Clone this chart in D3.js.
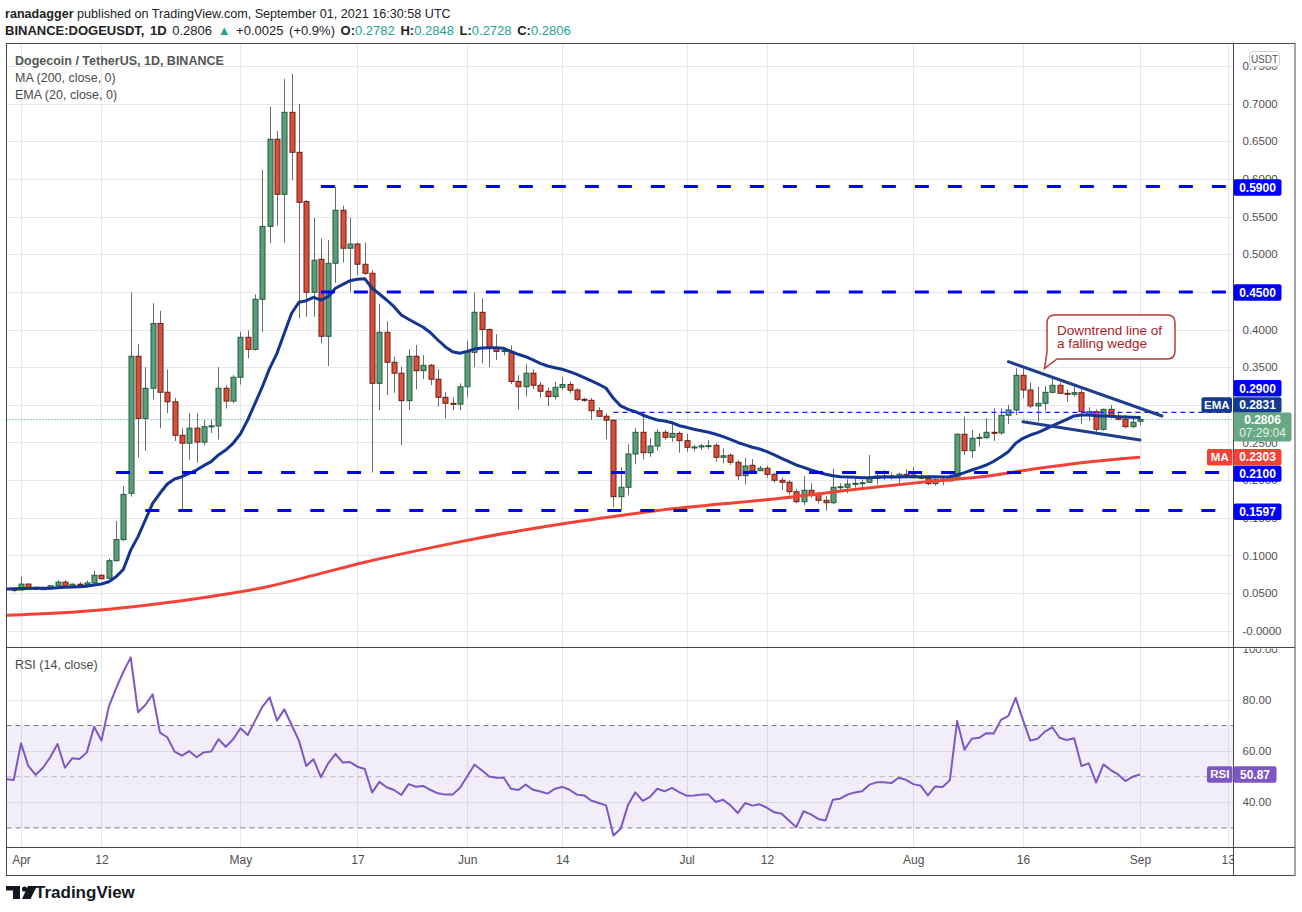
<!DOCTYPE html>
<html>
<head>
<meta charset="utf-8">
<script src="https://cdn.jsdelivr.net/npm/d3@7"></script>
<style>
  body { margin: 0; background: #fff; }
  svg { display: block; }
  text { font-family: "Liberation Sans", Arial, sans-serif; }
</style>
</head>
<body>
<svg id="chart" width="1302" height="912"></svg>
<script>
// daily candles from 30 Mar 2021 to 1 Sep 2021
var startDay = Date.UTC(2021, 2, 30);

var opens = [.0555,.0548,.0540,.0619,.0576,.0553,.0558,.0597,.0645,.0590,.0618,.0612,.0635,.0736,.0696,.0930,.1210,.1825,.3645,.2820,.3220,.4080,.3167,.3040,.2595,.2490,.2690,.2505,.2710,.2720,.3220,.3050,.3366,.3897,.3737,.4402,.5370,.6527,.5796,.6885,.6354,.5700,.4495,.4933,.3910,.4880,.5584,.5080,.5136,.4867,.4747,.3286,.3963,.3565,.3420,.3055,.3645,.3453,.3525,.3340,.3100,.3020,.3010,.3240,.3697,.4229,.4000,.3750,.3710,.3710,.3310,.3240,.3420,.3260,.3180,.3110,.3233,.3270,.3197,.3073,.3060,.2922,.2848,.2795,.1780,.1905,.2347,.2635,.2364,.2453,.2635,.2569,.2621,.2524,.2436,.2440,.2455,.2462,.2303,.2330,.2237,.2059,.2197,.2125,.2157,.2077,.1998,.1971,.1846,.1713,.1865,.1812,.1732,.1700,.1905,.1905,.1948,.1957,.1971,.2024,.2055,.2055,.2041,.2077,.2068,.2038,.2024,.1953,.2011,.1990,.2037,.2609,.2391,.2555,.2564,.2635,.2628,.2861,.2931,.3392,.3197,.2985,.3020,.3166,.3259,.3153,.3140,.3161,.2865,.2909,.2675,.2940,.2842,.2808,.2710,.2782];
var highs = [.0565,.0552,.0717,.0630,.0585,.0562,.0600,.0672,.0672,.0625,.0645,.0668,.0793,.0750,.0961,.1457,.1920,.4490,.3810,.3500,.4350,.4250,.3470,.3090,.2690,.2890,.2890,.2800,.2800,.3500,.3260,.3396,.3970,.3990,.4468,.6120,.6960,.6637,.7328,.7394,.6996,.5720,.5480,.5210,.5190,.5897,.5645,.5486,.5154,.5154,.4790,.4340,.4110,.3640,.3507,.3737,.3795,.3662,.3542,.3472,.3166,.3100,.3286,.3848,.4490,.4415,.4016,.3940,.3750,.3790,.3396,.3540,.3472,.3307,.3228,.3307,.3366,.3307,.3220,.3090,.3090,.2967,.2887,.2810,.2170,.2480,.2690,.2887,.2555,.2679,.2666,.2755,.2644,.2613,.2470,.2480,.2533,.2489,.2422,.2356,.2267,.2298,.2280,.2188,.2192,.2099,.2037,.2002,.1882,.2055,.1958,.1846,.1789,.2148,.1958,.2011,.2045,.2000,.2334,.2099,.2134,.2100,.2099,.2144,.2170,.2100,.2055,.2037,.2060,.2112,.2622,.2843,.2666,.2622,.2820,.2954,.2954,.2998,.3485,.3506,.3294,.3240,.3250,.3352,.3294,.3206,.3263,.3206,.2967,.2940,.2950,.2998,.2909,.2865,.2821,.2848];
var lows = [.0548,.0510,.0538,.0570,.0540,.0548,.0552,.0590,.0580,.0582,.0600,.0602,.0620,.0680,.0690,.0920,.1190,.1780,.2300,.2390,.3070,.2690,.2890,.2520,.1586,.2270,.2230,.2460,.2626,.2540,.2950,.3020,.3270,.3617,.3720,.3970,.5150,.5380,.5150,.5986,.4150,.4170,.4170,.3817,.3516,.4620,.4890,.4495,.4725,.4725,.2100,.2930,.3130,.3160,.2460,.2930,.3206,.3343,.3260,.2975,.2820,.2930,.2930,.3100,.3500,.3550,.3500,.3596,.3660,.3277,.2940,.3110,.3210,.3095,.2985,.3073,.3197,.3153,.3047,.3040,.2800,.2840,.2542,.1639,.1612,.1800,.2210,.2276,.2311,.2391,.2533,.2510,.2364,.2378,.2380,.2400,.2410,.2245,.2223,.2201,.2000,.1944,.2090,.2121,.2033,.1966,.1869,.1802,.1692,.1670,.1767,.1692,.1594,.1679,.1846,.1825,.1900,.1900,.1958,.1944,.2002,.2010,.1958,.2024,.2030,.2010,.1935,.1926,.1930,.2002,.2030,.2334,.2298,.2444,.2546,.2520,.2600,.2745,.2865,.3087,.2954,.2776,.2922,.3153,.3144,.3042,.3108,.2745,.2789,.2644,.2656,.2821,.2789,.2688,.2690,.2728];
var closes = [.0556,.0540,.0619,.0576,.0553,.0558,.0597,.0645,.0590,.0618,.0612,.0635,.0736,.0690,.0930,.1210,.1810,.3645,.2820,.3220,.4080,.3167,.3040,.2595,.2490,.2690,.2505,.2710,.2720,.3220,.3050,.3366,.3897,.3737,.4402,.5370,.6527,.5796,.6885,.6354,.5690,.4495,.4920,.3910,.4880,.5584,.5080,.5136,.4867,.4747,.3286,.3963,.3565,.3420,.3055,.3645,.3453,.3525,.3340,.3100,.3020,.3010,.3240,.3697,.4229,.4000,.3750,.3710,.3720,.3310,.3240,.3420,.3260,.3180,.3110,.3233,.3270,.3193,.3073,.3060,.2922,.2848,.2795,.1780,.1905,.2347,.2635,.2364,.2453,.2635,.2569,.2621,.2524,.2436,.2440,.2455,.2458,.2303,.2323,.2237,.2059,.2188,.2125,.2157,.2077,.1998,.1971,.1846,.1713,.1865,.1812,.1732,.1700,.1905,.1912,.1948,.1957,.1965,.2024,.2055,.2047,.2047,.2077,.2055,.2032,.2024,.1953,.2011,.1990,.2037,.2609,.2391,.2555,.2568,.2635,.2628,.2861,.2931,.3392,.3197,.2985,.3020,.3166,.3259,.3153,.3140,.3161,.2909,.2909,.2675,.2940,.2842,.2808,.2710,.2768,.2806];

// EMA (20), same days
var emaValues = [.0554,.0556,.0560,.0562,.0563,.0563,.0565,.0572,.0578,.0582,.0585,.0590,.0607,.0620,.0650,.0717,.0815,.1070,.1249,.1470,.1690,.1825,.1948,.2015,.2045,.2090,.2134,.2192,.2245,.2334,.2400,.2489,.2613,.2800,.3020,.3240,.3485,.3684,.3950,.4216,.4362,.4383,.4428,.4392,.4436,.4548,.4600,.4649,.4667,.4675,.4548,.4472,.4392,.4303,.4193,.4136,.4083,.4030,.3958,.3861,.3772,.3706,.3684,.3710,.3740,.3755,.3759,.3759,.3751,.3706,.3671,.3639,.3596,.3551,.3516,.3493,.3472,.3440,.3405,.3360,.3317,.3273,.3220,.3087,.2985,.2940,.2909,.2865,.2829,.2798,.2785,.2763,.2723,.2701,.2675,.2656,.2635,.2609,.2577,.2542,.2500,.2467,.2436,.2413,.2378,.2334,.2290,.2245,.2201,.2170,.2134,.2104,.2077,.2059,.2045,.2041,.2037,.2033,.2033,.2037,.2041,.2041,.2041,.2045,.2045,.2045,.2045,.2045,.2041,.2045,.2068,.2099,.2134,.2165,.2201,.2250,.2311,.2378,.2489,.2555,.2599,.2630,.2675,.2719,.2763,.2808,.2852,.2865,.2865,.2856,.2852,.2848,.2843,.2838,.2834,.2831];

// RSI (14), same days
var rsiValues = [49.0,48.7,63.0,54.2,50.7,53.5,57.6,62.8,53.5,57.2,56.9,59.5,69.5,64.1,77.3,84.5,91.0,96.6,75.2,78.0,82.2,67.2,65.4,59.8,58.2,60.0,57.6,59.5,59.8,64.6,61.7,64.6,68.9,66.3,71.8,77.3,81.0,71.9,76.3,70.2,64.1,54.2,56.8,49.8,55.2,58.9,55.5,55.7,53.9,53.0,43.8,48.0,45.9,44.8,42.9,47.1,46.1,46.4,44.8,43.5,43.0,43.0,45.6,50.1,54.7,52.5,50.1,49.6,49.6,45.3,44.8,46.9,44.9,44.2,43.4,45.3,46.0,44.9,43.0,42.7,40.6,39.7,38.8,27.0,29.7,39.0,43.9,40.6,42.1,45.3,44.3,45.6,44.0,42.6,42.7,43.0,43.0,40.1,41.0,38.8,35.8,39.7,38.7,39.2,37.8,36.1,35.5,32.9,30.3,36.5,35.3,33.5,32.9,41.0,41.4,43.0,43.8,44.3,46.9,47.8,47.8,47.5,49.6,48.8,47.1,46.5,42.7,46.2,46.0,48.6,71.8,60.5,64.8,65.2,67.0,66.9,72.2,73.8,80.8,72.1,64.1,64.8,67.6,69.3,65.2,64.3,65.0,54.2,55.2,47.7,54.8,52.6,50.9,48.3,50.0,50.87];

// MA (200)
var maDates = ["2021-03-30","2021-04-06","2021-04-13","2021-04-20","2021-04-27","2021-05-04","2021-05-11","2021-05-18","2021-05-25","2021-06-01","2021-06-08","2021-06-15","2021-06-22","2021-06-29","2021-07-06","2021-07-13","2021-07-20","2021-07-27","2021-08-03","2021-08-10","2021-08-17","2021-08-24","2021-09-01"];
var maValues = [.0205,.0235,.0285,.0360,.0455,.0570,.0735,.0910,.1060,.1200,.1325,.1435,.1530,.1620,.1685,.1750,.1830,.1910,.1980,.2040,.2140,.2230,.2303];

// horizontal levels drawn on the chart
var levelValues = [0.59, 0.45, 0.21, 0.1597];
var levelStarts = ["2021-05-12","2021-05-12","2021-04-14","2021-04-18"];
var thinLevel = 0.29, thinLevelStart = "2021-06-21";

// falling wedge lines [date, price]
var wedgeUpper = [["2021-08-14", 0.3573], ["2021-09-04", 0.2852]];
var wedgeLower = [["2021-08-16", 0.2776], ["2021-09-01", 0.2533]];

// 0.3000 and 0.4500 sit fully under the price tags, so they are left out
var priceTicks = [0, 0.05, 0.1, 0.15, 0.2, 0.25, 0.35, 0.4, 0.5, 0.55, 0.6, 0.65, 0.7, 0.75];
var priceTickLabels = ["-0.0000","0.0500","0.1000","0.1500","0.2000","0.2500","0.3500","0.4000","0.5000","0.5500","0.6000","0.6500","0.7000","0.7500"];
var gridPrices = [0, 0.05, 0.1, 0.15, 0.2, 0.25, 0.3, 0.35, 0.4, 0.45, 0.5, 0.55, 0.6, 0.65, 0.7, 0.75];
var rsiTicks = [40, 60, 80, 100];
var rsiTickLabels = ["40.00","60.00","80.00","100.00"];
var dateTicks = ["2021-04-01","2021-04-12","2021-05-01","2021-05-17","2021-06-01","2021-06-14","2021-07-01","2021-07-12","2021-08-01","2021-08-16","2021-09-01","2021-09-13"];
var dateTickLabels = ["Apr","12","May","17","Jun","14","Jul","12","Aug","16","Sep","13"];

var parse = d3.utcParse("%Y-%m-%d");
var dates = opens.map(function(d, i) { return new Date(startDay + i * 864e5); });
var candles = dates.map(function(d, i) {
  return { date: d, o: opens[i], h: highs[i], l: lows[i], c: closes[i] };
});

var L = 6.5, R = 1233.5, TOP = 43.5, SEP = 647.5, XAX = 847.5, BOT = 875.5, OUT = 1295;

var x = d3.scaleUtc().domain([parse("2021-04-01"), parse("2021-09-01")]).range([21, 1140]);
var y = d3.scaleLinear().domain([0, 0.75]).range([630.7, 66]);
var yr = d3.scaleLinear().domain([0, 100]).range([904.7, 648.7]);

var svg = d3.select("#chart");
svg.append("rect").attr("width", 1302).attr("height", 912).attr("fill", "#fff");

var defs = svg.append("defs");
defs.append("clipPath").attr("id", "pclip").append("rect")
  .attr("x", L).attr("y", TOP).attr("width", R - L).attr("height", SEP - TOP);
defs.append("clipPath").attr("id", "rclip").append("rect")
  .attr("x", L).attr("y", SEP).attr("width", R - L).attr("height", XAX - SEP);
defs.append("clipPath").attr("id", "raxclip").append("rect")
  .attr("x", R).attr("y", SEP + 1).attr("width", 70).attr("height", XAX - SEP);
defs.append("clipPath").attr("id", "xaxclip").append("rect")
  .attr("x", L).attr("y", XAX).attr("width", R - L).attr("height", BOT - XAX);

// grid
var grid = svg.append("g").attr("stroke", "#e6e6e8").attr("stroke-width", 1);
grid.selectAll(".vg").data(dateTicks).enter().append("line")
  .attr("x1", function(d) { return Math.round(x(parse(d))) + 0.5; })
  .attr("x2", function(d) { return Math.round(x(parse(d))) + 0.5; })
  .attr("y1", TOP).attr("y2", XAX);
grid.selectAll(".hg").data(gridPrices).enter().append("line")
  .attr("x1", L).attr("x2", R)
  .attr("y1", function(d) { return Math.round(y(d)) + 0.5; })
  .attr("y2", function(d) { return Math.round(y(d)) + 0.5; });
grid.selectAll(".rg").data([40, 60, 80]).enter().append("line")
  .attr("x1", L).attr("x2", R)
  .attr("y1", function(d) { return Math.round(yr(d)) + 0.5; })
  .attr("y2", function(d) { return Math.round(yr(d)) + 0.5; });

// RSI pane
var rsiG = svg.append("g").attr("clip-path", "url(#rclip)");
rsiG.append("rect").attr("x", L).attr("width", R - L)
  .attr("y", yr(70)).attr("height", yr(30) - yr(70))
  .attr("fill", "#7e57c2").attr("fill-opacity", 0.1);
[70, 30].forEach(function(v) {
  rsiG.append("line").attr("x1", L).attr("x2", R).attr("y1", yr(v)).attr("y2", yr(v))
    .attr("stroke", "#787b86").attr("stroke-width", 1).attr("stroke-dasharray", "5 4");
});
rsiG.append("line").attr("x1", L).attr("x2", R).attr("y1", yr(50)).attr("y2", yr(50))
  .attr("stroke", "#b9b6c2").attr("stroke-width", 1).attr("stroke-dasharray", "5 4");
rsiG.append("path").datum(rsiValues)
  .attr("fill", "none").attr("stroke", "#7e57c2").attr("stroke-width", 2)
  .attr("stroke-linejoin", "round")
  .attr("d", d3.line().x(function(d, i) { return x(dates[i]); }).y(function(d) { return yr(d); }));

// price pane
var pG = svg.append("g").attr("clip-path", "url(#pclip)");

pG.append("line").attr("x1", L).attr("x2", R)
  .attr("y1", y(closes[closes.length - 1])).attr("y2", y(closes[closes.length - 1]))
  .attr("stroke", "#26a69a").attr("stroke-width", 1).attr("stroke-dasharray", "1 2");

var cG = pG.append("g");
cG.selectAll(".wick").data(candles).enter().append("line")
  .attr("x1", function(d) { return Math.round(x(d.date)) + 0.5; })
  .attr("x2", function(d) { return Math.round(x(d.date)) + 0.5; })
  .attr("y1", function(d) { return y(d.h); })
  .attr("y2", function(d) { return y(d.l); })
  .attr("stroke", "#6b6b6b").attr("stroke-width", 1);
cG.selectAll(".body").data(candles).enter().append("rect")
  .attr("x", function(d) { return Math.round(x(d.date)) - 2; })
  .attr("width", 5)
  .attr("y", function(d) { return y(Math.max(d.o, d.c)); })
  .attr("height", function(d) { return Math.max(1, Math.abs(y(d.o) - y(d.c))); })
  .attr("fill", function(d) { return d.c >= d.o ? "#5c9e7a" : "#d8513c"; })
  .attr("stroke", function(d) { return d.c >= d.o ? "#225b3d" : "#6e1d12"; })
  .attr("stroke-width", 1);

pG.append("path").datum(maValues)
  .attr("fill", "none").attr("stroke", "#f44336").attr("stroke-width", 3)
  .attr("d", d3.line().curve(d3.curveMonotoneX)
    .x(function(d, i) { return x(parse(maDates[i])); })
    .y(function(d) { return y(d); }));

pG.append("path").datum(emaValues)
  .attr("fill", "none").attr("stroke", "#14358f").attr("stroke-width", 3)
  .attr("stroke-linejoin", "round")
  .attr("d", d3.line().x(function(d, i) { return x(dates[i]); }).y(function(d) { return y(d); }));

// level lines
pG.selectAll(".lvl").data(levelValues).enter().append("line")
  .attr("x1", function(d, i) { return x(parse(levelStarts[i])); })
  .attr("x2", R - 4)
  .attr("y1", function(d) { return y(d); })
  .attr("y2", function(d) { return y(d); })
  .attr("stroke", "#0000ff").attr("stroke-width", 3).attr("stroke-dasharray", "14 19");
pG.append("line")
  .attr("x1", x(parse(thinLevelStart))).attr("x2", R)
  .attr("y1", y(thinLevel)).attr("y2", y(thinLevel))
  .attr("stroke", "#1a1aff").attr("stroke-width", 1.3).attr("stroke-dasharray", "5 4");

// wedge
[wedgeUpper, wedgeLower].forEach(function(w) {
  pG.append("line")
    .attr("x1", x(parse(w[0][0]))).attr("y1", y(w[0][1]))
    .attr("x2", x(parse(w[1][0]))).attr("y2", y(w[1][1]))
    .attr("stroke", "#1f3f8c").attr("stroke-width", 3).attr("stroke-linecap", "round");
});

// callout
var bx0 = 1047, by0 = 315, bx1 = 1175, by1 = 359, rr = 8;
pG.append("path")
  .attr("d", "M" + (bx0 + rr) + "," + by0 + " H" + (bx1 - rr) + " Q" + bx1 + "," + by0 + " " + bx1 + "," + (by0 + rr) +
    " V" + (by1 - rr) + " Q" + bx1 + "," + by1 + " " + (bx1 - rr) + "," + by1 +
    " H1057 L1044.5,368.5 L" + bx0 + ",352 V" + (by0 + rr) + " Q" + bx0 + "," + by0 + " " + (bx0 + rr) + "," + by0 + " Z")
  .attr("fill", "#fff").attr("stroke", "#b03a3e").attr("stroke-width", 1.5);
var note = pG.append("text").attr("x", 1057).attr("y", 335).attr("fill", "#a82227").attr("font-size", 13.5);
note.append("tspan").attr("x", 1057).text("Downtrend line of");
note.append("tspan").attr("x", 1057).attr("dy", 13).text("a falling wedge");

// frame
var frame = svg.append("g").attr("stroke", "#4a4a4a").attr("stroke-width", 1).attr("fill", "none");
frame.append("rect").attr("x", L).attr("y", TOP).attr("width", OUT - L).attr("height", BOT - TOP);
frame.append("line").attr("x1", R).attr("x2", R).attr("y1", TOP).attr("y2", BOT);
frame.append("line").attr("x1", L).attr("x2", OUT).attr("y1", SEP).attr("y2", SEP);
frame.append("line").attr("x1", L).attr("x2", OUT).attr("y1", XAX).attr("y2", XAX);

// axes
function styleAxis(g) {
  g.select(".domain").remove();
  g.selectAll(".tick line").remove();
  g.selectAll("text").attr("fill", "#4f4f4f").attr("font-size", 11.5)
    .attr("font-family", "'Liberation Sans', Arial, sans-serif");
}
svg.append("g").attr("transform", "translate(" + (R + 6) + ",0)")
  .call(d3.axisRight(y).tickValues(priceTicks).tickSize(0).tickPadding(3)
    .tickFormat(function(d, i) { return priceTickLabels[i]; }))
  .call(styleAxis);
svg.append("g").attr("clip-path", "url(#raxclip)")
  .append("g").attr("transform", "translate(" + (R + 6) + ",0)")
  .call(d3.axisRight(yr).tickValues(rsiTicks).tickSize(0).tickPadding(3)
    .tickFormat(function(d, i) { return rsiTickLabels[i]; }))
  .call(styleAxis);
svg.append("g").attr("clip-path", "url(#xaxclip)")
  .append("g").attr("transform", "translate(0," + XAX + ")")
  .call(d3.axisBottom(x).tickValues(dateTicks.map(parse)).tickSize(0).tickPadding(8)
    .tickFormat(function(d, i) { return dateTickLabels[i]; }))
  .call(styleAxis)
  .selectAll("text").attr("font-size", 12);

// tags on the right scale
function tag(x0, w, yc, h, fill, txt, fs) {
  var g = svg.append("g");
  g.append("rect").attr("x", x0).attr("y", yc - h / 2).attr("width", w).attr("height", h)
    .attr("rx", 2).attr("fill", fill);
  g.append("text").attr("x", x0 + w / 2).attr("y", yc).attr("dy", "0.35em")
    .attr("text-anchor", "middle").attr("fill", "#fff").attr("font-size", fs || 12)
    .attr("font-weight", "bold").text(txt);
  return g;
}
var lastEma = emaValues[emaValues.length - 1];
var lastMa = maValues[maValues.length - 1];
var lastClose = closes[closes.length - 1];
var lastRsi = rsiValues[rsiValues.length - 1];

tag(R, 48, y(0.59) + 1, 16.5, "#0000ff", "0.5900");
tag(R, 48, y(0.45) + 0.5, 16.5, "#0000ff", "0.4500");
tag(R, 48, y(thinLevel) - 24, 16.5, "#0000ff", "0.2900");
tag(R, 48, y(lastEma) - 12.5, 15.5, "#123891", lastEma.toFixed(4));
tag(1201.5, 30.5, y(lastEma) - 12.5, 15.5, "#123891", "EMA", 11.5);
var pt = svg.append("g");
pt.append("rect").attr("x", R).attr("y", y(lastClose) - 7).attr("width", 58).attr("height", 29)
  .attr("rx", 2).attr("fill", "#69a885");
pt.append("text").attr("x", R + 29).attr("y", y(lastClose) + 4.5).attr("text-anchor", "middle")
  .attr("fill", "#fff").attr("font-size", 12).attr("font-weight", "bold").text(lastClose.toFixed(4));
pt.append("text").attr("x", R + 29).attr("y", y(lastClose) + 18).attr("text-anchor", "middle")
  .attr("fill", "#e4f0e9").attr("font-size", 12).text("07:29:04");
tag(R, 48, y(lastMa), 16.5, "#f44336", lastMa.toFixed(4));
tag(1207, 25.5, y(lastMa), 16.5, "#f44336", "MA", 11.5);
tag(R, 48, y(0.21) + 1.2, 16, "#0000ff", "0.2100");
tag(R, 48, y(0.1597) + 1.2, 16.5, "#0000ff", "0.1597");
tag(R, 43, yr(lastRsi), 16.5, "#7e57c2", lastRsi.toFixed(2));
tag(1207, 25.5, yr(lastRsi), 16.5, "#7e57c2", "RSI", 11.5);

// currency badge
svg.append("rect").attr("x", 1249.5).attr("y", 51.5).attr("width", 30).attr("height", 15).attr("rx", 3)
  .attr("fill", "#fff").attr("stroke", "#cfcfd4");
svg.append("text").attr("x", 1264.5).attr("y", 62.5).attr("text-anchor", "middle")
  .attr("font-size", 10).attr("fill", "#555").text("USDT");

// pane legends
var leg = svg.append("g").attr("fill", "#4a4a4a").attr("font-size", 12.5);
leg.append("text").attr("x", 15).attr("y", 64.5).attr("font-weight", "bold").attr("fill", "#555").text("Dogecoin / TetherUS, 1D, BINANCE");
leg.append("text").attr("x", 15).attr("y", 81.5).text("MA (200, close, 0)");
leg.append("text").attr("x", 15).attr("y", 98.5).text("EMA (20, close, 0)");
leg.append("text").attr("x", 15).attr("y", 668.5).text("RSI (14, close)");

// header
var h1 = svg.append("text").attr("x", 5).attr("y", 17.5).attr("font-size", 12.6).attr("fill", "#222");
h1.append("tspan").attr("font-weight", "bold").text("ranadagger");
h1.append("tspan").text(" published on TradingView.com, September 01, 2021 16:30:58 UTC");
var teal = "#22a392";
var h2 = svg.append("text").attr("x", 5).attr("y", 34.5).attr("font-size", 13).attr("fill", "#222")
  .attr("word-spacing", 2);
h2.append("tspan").attr("font-weight", "bold").text("BINANCE:DOGEUSDT, 1D");
h2.append("tspan").text(" 0.2806 ");
h2.append("tspan").attr("fill", teal).text("\u25B2");
h2.append("tspan").text(" +0.0025 (+0.9%) ");
[["O:", "0.2782"], [" H:", "0.2848"], [" L:", "0.2728"], [" C:", "0.2806"]].forEach(function(p) {
  h2.append("tspan").attr("font-weight", "bold").text(p[0]);
  h2.append("tspan").attr("fill", teal).text(p[1]);
});

// TradingView logo
var logo = svg.append("g").attr("fill", "#131722");
logo.append("rect").attr("x", 6).attr("y", 886).attr("width", 14).attr("height", 4.5);
logo.append("rect").attr("x", 13).attr("y", 886).attr("width", 7).attr("height", 13);
logo.append("circle").attr("cx", 24.5).attr("cy", 889).attr("r", 2.6);
logo.append("path").attr("d", "M28,886 H37 L30.5,899 H22 Z");
svg.append("text").attr("x", 35).attr("y", 898).attr("font-size", 17).attr("font-weight", "bold")
  .attr("fill", "#131722").text("TradingView");
</script>
</body>
</html>
